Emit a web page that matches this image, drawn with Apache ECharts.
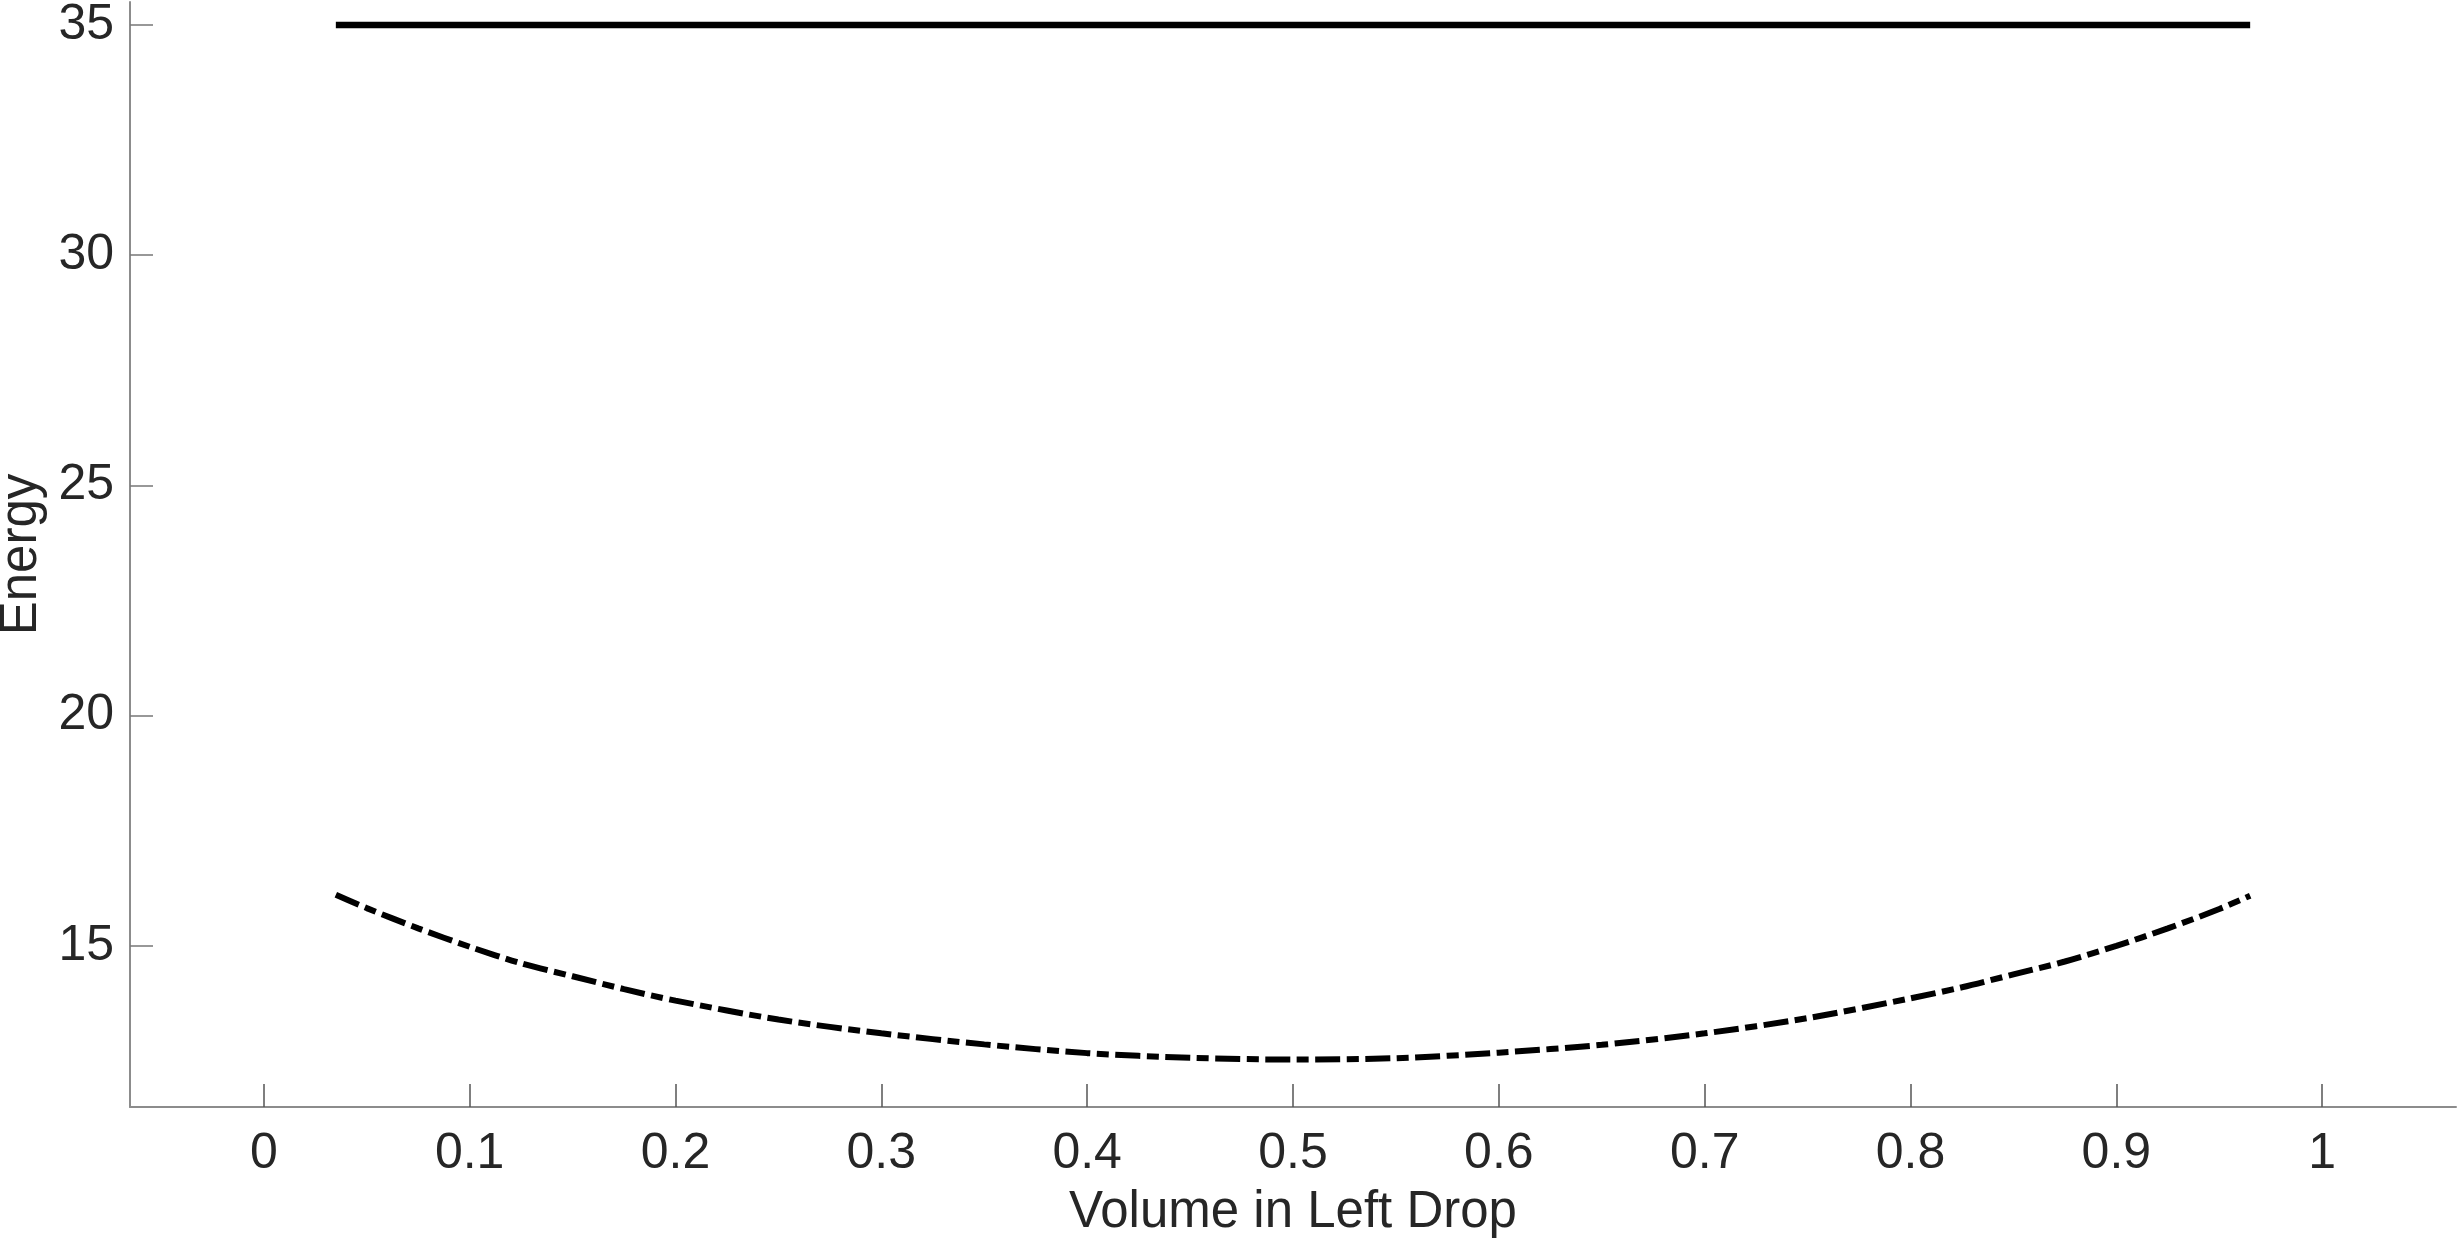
<!DOCTYPE html>
<html>
<head>
<meta charset="utf-8">
<title>Energy vs Volume in Left Drop</title>
<script src="https://cdn.jsdelivr.net/npm/echarts@6/dist/echarts.min.js"></script>
<style>
    html, body { margin: 0; padding: 0; background: #fff; }
    .chart1 { width: 2459px; height: 1239px; }
</style>
</head>
<body>
<div class="chart1"></div>
<script>
// volume fractions where the curves were sampled
var volume = [0.035, 0.05, 0.075, 0.1, 0.125, 0.15, 0.175, 0.2, 0.25, 0.3, 0.35, 0.4, 0.45, 0.5,
    0.55, 0.6, 0.65, 0.7, 0.75, 0.8, 0.825, 0.85, 0.875, 0.9, 0.925, 0.95, 0.965];
// dash-dot curve
var energyLow = [16.11, 15.82, 15.38, 14.98, 14.62, 14.34, 14.06, 13.81, 13.40, 13.10, 12.86, 12.67, 12.57, 12.53,
    12.56, 12.68, 12.85, 13.10, 13.43, 13.86, 14.10, 14.38, 14.66, 15.00, 15.38, 15.80, 16.09];
// solid flat line
var flatVolume = [0.035, 0.965];
var energyHigh = [35, 35];

var xTicks = [0, 0.1, 0.2, 0.3, 0.4, 0.5, 0.6, 0.7, 0.8, 0.9, 1];
var yTicks = [15, 20, 25, 30, 35];

function pairs(xs, ys) {
    var out = [];
    for (var i = 0; i < xs.length; i++) {
        out.push([xs[i], ys[i]]);
    }
    return out;
}

var myChart1;
function initChart1() {
    var chartDom = document.querySelector('.chart1');
    myChart1 = echarts.init(chartDom);
    var option;

    var labelFont = {
        color: '#262626',
        fontFamily: 'Liberation Sans, Arial, sans-serif',
        fontSize: 50
    };

    option = {
        animation: false,
        backgroundColor: '#fff',
        grid: {
            left: 130,
            right: 3,
            top: 2,
            bottom: 132,
            containLabel: false,
            outerBoundsMode: 'none'
        },
        xAxis: {
            type: 'value',
            min: -0.065,
            max: 1.065,
            name: 'Volume in Left Drop',
            nameLocation: 'middle',
            nameGap: 80,
            nameTextStyle: {
                color: '#262626',
                fontFamily: 'Liberation Sans, Arial, sans-serif',
                fontSize: 51
            },
            axisLine: { show: true, onZero: false, lineStyle: { color: '#8c8c8c', width: 2 } },
            axisTick: {
                show: true,
                inside: true,
                length: 23,
                customValues: xTicks,
                lineStyle: { color: '#555', width: 1.5 }
            },
            axisLabel: Object.assign({
                margin: 22,
                customValues: xTicks,
                formatter: function (value) {
                    return String(+value.toFixed(2));
                }
            }, labelFont),
            splitLine: { show: false }
        },
        yAxis: {
            type: 'value',
            min: 11.5,
            max: 35.5,
            name: 'Energy',
            nameLocation: 'middle',
            nameGap: 80,
            nameTextStyle: {
                color: '#262626',
                fontFamily: 'Liberation Sans, Arial, sans-serif',
                fontSize: 51
            },
            axisLine: { show: true, onZero: false, lineStyle: { color: '#8c8c8c', width: 2 } },
            axisTick: {
                show: true,
                inside: true,
                length: 23,
                customValues: yTicks,
                lineStyle: { color: '#777', width: 1.5 }
            },
            axisLabel: Object.assign({
                margin: 16,
                customValues: yTicks
            }, labelFont),
            splitLine: { show: false }
        },
        series: [
            {
                name: 'flat',
                type: 'line',
                showSymbol: false,
                data: pairs(flatVolume, energyHigh),
                lineStyle: { color: '#000', width: 6.5, type: 'solid' }
            },
            {
                name: 'curve',
                type: 'line',
                showSymbol: false,
                smooth: 0.3,
                data: pairs(volume, energyLow),
                lineStyle: {
                    color: '#000',
                    width: 6,
                    type: [25, 6.5, 12, 6.5],
                    cap: 'butt'
                }
            }
        ]
    };

    option && myChart1.setOption(option);
}

document.addEventListener('DOMContentLoaded', function () {
    initChart1();
});

window.addEventListener('resize', () => {
    myChart1.resize();
});
</script>
</body>
</html>
